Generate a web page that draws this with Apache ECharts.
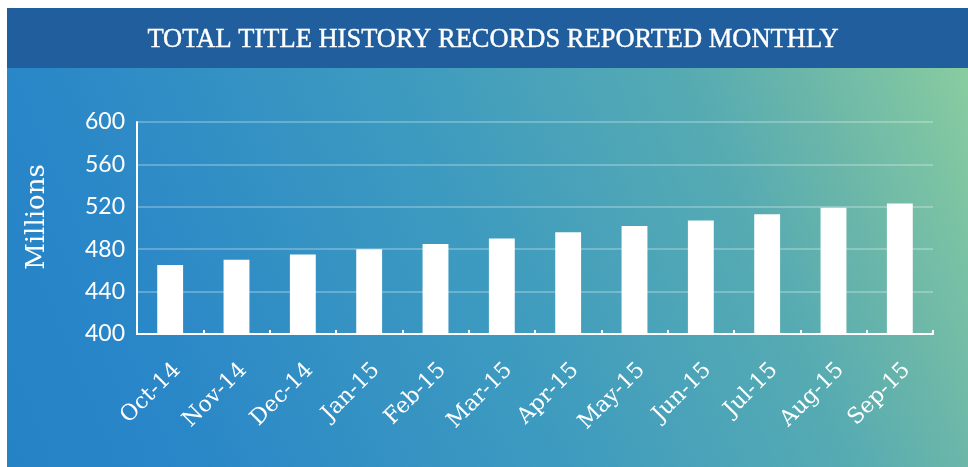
<!DOCTYPE html>
<html>
<head>
<meta charset="utf-8">
<script src="https://cdn.jsdelivr.net/npm/echarts@6/dist/echarts.min.js"></script>
<style>
html,body{margin:0;padding:0;background:#ffffff;}
#chart{width:968px;height:467px;}
</style>
</head>
<body>
<div id="chart"></div>
<script>
var categories = ['Oct-14','Nov-14','Dec-14','Jan-15','Feb-15','Mar-15','Apr-15','May-15','Jun-15','Jul-15','Aug-15','Sep-15'];
var records = [465, 470, 475, 480, 485, 490, 496, 502, 507, 513, 519, 523];
var yMin = 400, yMax = 600, yStep = 40;
var titleText = 'TOTAL TITLE HISTORY RECORDS REPORTED MONTHLY';
var yAxisTitle = 'Millions';

var chart = echarts.init(document.getElementById('chart'), null, {renderer:'canvas'});
chart.setOption({
  animation: false,
  graphic: [
    {type:'rect', z:-10, shape:{x:7,y:68,width:961,height:399},
     style:{fill:new echarts.graphic.LinearGradient(0,1,1,0,[
       {offset:0,color:'#2582C5'},
       {offset:0.15,color:'#2986C8'},
       {offset:0.5,color:'#3E9BBF'},
       {offset:0.75,color:'#56ABB2'},
       {offset:0.85,color:'#6BB6A9'},
       {offset:1,color:'#88CCA0'}])}},
    {type:'rect', z:-10, shape:{x:7,y:8,width:961,height:60}, style:{fill:'#215E9D'}},
    {type:'text', z:10, x:493, y:40, style:{text:titleText, fill:'#ffffff', font:'26.5px "Liberation Serif"', align:'center', verticalAlign:'middle', stroke:'#ffffff', lineWidth:0.4}},
    {type:'text', z:10, x:37, y:217, rotation:Math.PI/2, style:{text:yAxisTitle, fill:'#ffffff', font:'26px "DejaVu Serif"', align:'center', verticalAlign:'middle'}}
  ],
  grid: {left:137, right:35, top:122, bottom:133, containLabel:false},
  xAxis: {
    type:'category', data:categories, boundaryGap:true,
    axisLine:{show:true, lineStyle:{color:'#ffffff', width:2}},
    axisTick:{show:true, inside:true, length:4, alignWithLabel:false, lineStyle:{color:'#ffffff', width:2}},
    axisLabel:{rotate:45, margin:40, padding:[0,-10,0,0], color:'#ffffff', fontFamily:'DejaVu Serif', fontSize:22, interval:0}
  },
  yAxis: {
    type:'value', min:yMin, max:yMax, interval:yStep,
    axisLine:{show:true, lineStyle:{color:'#ffffff', width:2}},
    axisTick:{show:false},
    splitLine:{show:true, lineStyle:{color:'rgba(255,255,255,0.25)', width:2}},
    axisLabel:{margin:12, color:'#ffffff', fontFamily:'Lato', fontSize:23}
  },
  series: [{
    type:'bar', data:records, barWidth:'39%',
    itemStyle:{color:'#ffffff'}
  }]
});
</script>
</body>
</html>
